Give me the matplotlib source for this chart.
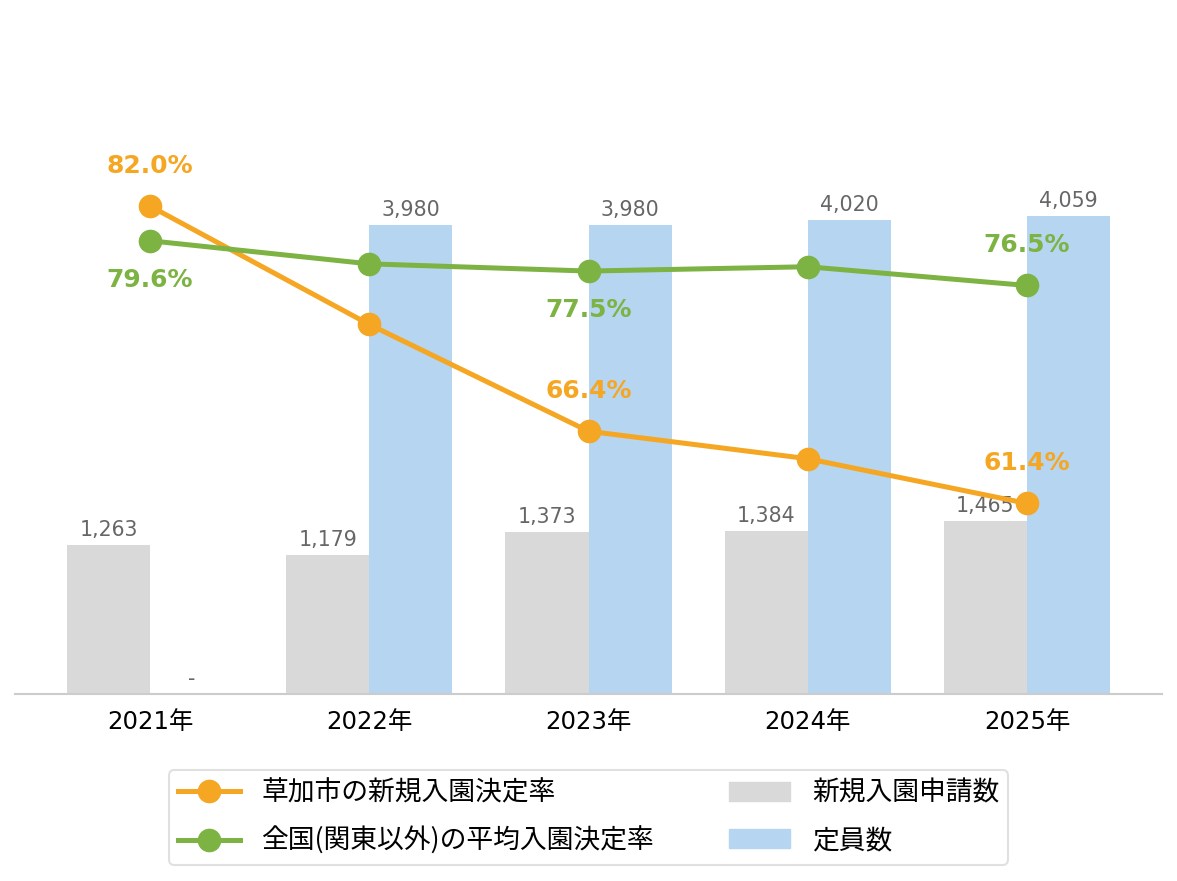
import matplotlib
matplotlib.use("Agg")
import matplotlib.pyplot as plt
import numpy as np
from matplotlib.lines import Line2D
from matplotlib.patches import Patch

plt.rcParams['font.family'] = ['DejaVu Sans', 'Noto Sans CJK JP']

years = ["2021年", "2022年", "2023年", "2024年", "2025年"]
applications = [1263, 1179, 1373, 1384, 1465]
capacity = [np.nan, 3980, 3980, 4020, 4059]
soka_rate = [82.0, 73.8, 66.4, 64.5, 61.4]
national_rate = [79.6, 78.0, 77.5, 77.8, 76.5]
soka_labels = {0: "82.0%", 2: "66.4%", 4: "61.4%"}
national_labels = {0: "79.6%", 2: "77.5%", 4: "76.5%"}

ORANGE = "#F5A623"
GREEN = "#7CB342"
BLUE = "#B5D5F0"
GRAY = "#D9D9D9"
LABEL_GRAY = "#666666"

fig = plt.figure(figsize=(11.77, 8.81), dpi=100)
ax = fig.add_axes([15/1177, (881-693.5)/881, 1147/1177, (693.5-40)/881])
x = np.arange(len(years))
w = 0.379

ax.bar(x - w/2, applications, w, color=GRAY, zorder=2)
ax.bar(x + w/2, capacity, w, color=BLUE, zorder=2)
ax.set_xlim(-0.616, 4.616)
ax.set_ylim(0, 5552)

for i, v in enumerate(applications):
    ax.annotate(f"{v:,}", (x[i] - w/2, v), xytext=(0, 3.5), textcoords="offset points",
                ha="center", va="bottom", fontsize=14.8, color=LABEL_GRAY, zorder=3)
for i, v in enumerate(capacity):
    if np.isnan(v):
        ax.annotate("-", (x[i] + w/2, 0), xytext=(0, 3.5), textcoords="offset points",
                    ha="center", va="bottom", fontsize=14.8, color=LABEL_GRAY)
    else:
        ax.annotate(f"{int(v):,}", (x[i] + w/2, v), xytext=(0, 3.5), textcoords="offset points",
                    ha="center", va="bottom", fontsize=14.8, color=LABEL_GRAY, zorder=3)

for s in ["top", "right", "left"]:
    ax.spines[s].set_visible(False)
ax.spines["bottom"].set_color("#CCCCCC")
ax.spines["bottom"].set_linewidth(1.5)
ax.set_yticks([])
ax.set_xticks(x)
ax.set_xticklabels(years, fontsize=17.6)
ax.tick_params(axis="x", length=0, pad=12)

ax2 = ax.twinx()
ax2.set_ylim(48.23, 93.51)
ax2.set_yticks([])
for s in ax2.spines.values():
    s.set_visible(False)
ax2.plot(x, soka_rate, color=ORANGE, lw=3.6, marker="o", ms=16, zorder=5)
ax2.plot(x, national_rate, color=GREEN, lw=3.6, marker="o", ms=16, zorder=5)

for i, t in soka_labels.items():
    ax2.annotate(t, (x[i], soka_rate[i]), xytext=(0, 29), textcoords="offset points",
                 ha="center", va="center", fontsize=18, fontweight="bold", color=ORANGE)
for i, t in national_labels.items():
    off = 29 if i == 4 else -28
    ax2.annotate(t, (x[i], national_rate[i]), xytext=(0, off), textcoords="offset points",
                 ha="center", va="center", fontsize=18, fontweight="bold", color=GREEN)

handles = [
    Line2D([0], [0], color=ORANGE, lw=3.6, marker="o", ms=16),
    Line2D([0], [0], color=GREEN, lw=3.6, marker="o", ms=16),
    Patch(color=GRAY),
    Patch(color=BLUE),
]
labels = ["草加市の新規入園決定率", "全国(関東以外)の平均入園決定率", "新規入園申請数", "定員数"]
leg = fig.legend(handles, labels, loc="center", bbox_to_anchor=(588.5/1177, (881-817.5)/881), ncol=2,
                 frameon=True, edgecolor="#D9D9D9", fancybox=True,
                 handlelength=2.3, columnspacing=2.8, labelspacing=0.75,
                 borderpad=0.35,
                 prop={'family': ['Noto Sans CJK JP', 'DejaVu Sans'], 'size': 19.3})
leg.get_frame().set_linewidth(1.5)

fig.savefig("out.png", dpi=100)
